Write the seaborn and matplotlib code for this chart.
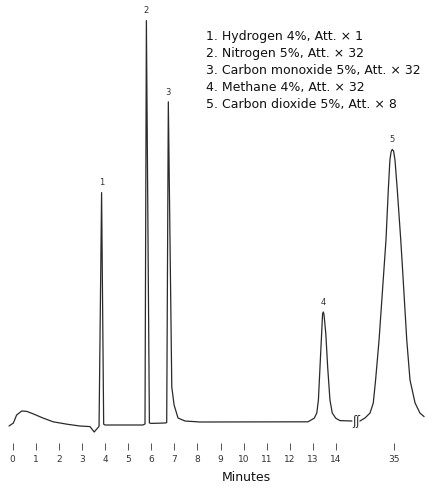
import numpy as np
import pandas as pd
import matplotlib
matplotlib.use("Agg")
import matplotlib.pyplot as plt
import seaborn as sns

# Trace (time in minutes, detector response)
left_time = [-0.16, 0.03, 0.17, 0.39, 0.61, 0.88, 1.31, 1.75, 2.35, 2.91, 3.35, 3.53, 3.64, 3.72,
             3.74, 3.85, 3.94, 4.0, 5.64,
             5.73, 5.79, 5.92, 6.02, 6.6,
             6.67, 6.74, 6.89, 6.99, 7.16, 7.46, 8.11, 12.79,
             13.06, 13.17, 13.24, 13.31, 13.38, 13.42, 13.45, 13.48, 13.56, 13.64, 13.74,
             13.84, 13.99, 14.17, 14.69]
left_signal = [-0.25, 0.5, 2.5, 3.5, 3.4, 2.8, 1.75, 0.8, 0.2, -0.25, -0.4, -1.75, -1.0, -0.5,
               -0.25, 58.1, 0.2, 0.0, 0.0,
               0.25, 101.1, 0.5, 0.4, 0.5,
               0.6, 80.8, 9.5, 5.0, 1.75, 1.0, 0.75, 0.8,
               1.7, 3.0, 6.25, 14.6, 22.9, 27.75, 28.25, 27.75, 22.9, 14.6, 6.25,
               3.0, 1.7, 1.1, 1.0]

right_time = [33.51, 33.73, 33.95, 34.09, 34.19, 34.34, 34.55, 34.64, 34.74, 34.81, 34.86,
              34.91, 34.97, 35.03, 35.13, 35.28, 35.36, 35.54, 35.68, 35.9, 36.11, 36.29]
right_signal = [1.0, 1.75, 3.0, 5.5, 11.25, 21.25, 38.75, 46.25, 58.75, 66.25, 68.25,
                68.9, 68.5, 66.25, 58.75, 46.25, 38.75, 21.25, 11.25, 5.5, 3.0, 2.1]

peak_numbers = ["1", "2", "3", "4", "5"]
peak_times = [3.85, 5.79, 6.74, 13.45, 34.91]
peak_heights = [58.1, 101.1, 80.8, 28.25, 68.9]

legend_lines = [
    "1. Hydrogen 4%, Att. \u00d7 1",
    "2. Nitrogen 5%, Att. \u00d7 32",
    "3. Carbon monoxide 5%, Att. \u00d7 32",
    "4. Methane 4%, Att. \u00d7 32",
    "5. Carbon dioxide 5%, Att. \u00d7 8",
]

left_ticks = list(range(0, 15))
right_ticks = [35]

sns.set_style("white")
plt.rcParams["font.family"] = ["DejaVu Sans"]
narrow = ["Liberation Sans Narrow", "DejaVu Sans"]

W, H = 438, 490
fig = plt.figure(figsize=(W / 100, H / 100), dpi=100)
ax1 = fig.add_axes([5 / W, 47 / H, 350 / W, 443 / H])
ax2 = fig.add_axes([358 / W, 47 / H, 74 / W, 443 / H])

line_color = "#2a2a2a"
left_df = pd.DataFrame({"time": left_time, "signal": left_signal})
right_df = pd.DataFrame({"time": right_time, "signal": right_signal})
sns.lineplot(data=left_df, x="time", y="signal", ax=ax1, sort=False, estimator=None,
             color=line_color, linewidth=0.9)
sns.lineplot(data=right_df, x="time", y="signal", ax=ax2, sort=False, estimator=None,
             color=line_color, linewidth=0.9)

ax1.set_xlim(-0.3335, 14.825)
ax2.set_xlim(33.428, 36.633)
for ax, ticks in [(ax1, left_ticks), (ax2, right_ticks)]:
    ax.set_ylim(-4.5, 106.25)
    ax.set_xticks(ticks)
    ax.set_xticklabels([str(t) for t in ticks], fontsize=6.5, color="#333333", family=narrow)
    ax.set_yticks([])
    ax.set_xlabel("")
    ax.set_ylabel("")
    for sp in ax.spines.values():
        sp.set_visible(False)
    ax.tick_params(axis="x", direction="out", length=5, width=0.7, color="#555555",
                   pad=3.5, bottom=True)
    ax.patch.set_alpha(0)

# Peak numbers above apexes
for num, t, h in zip(peak_numbers, peak_times, peak_heights):
    ax = ax1 if t < 20 else ax2
    ax.annotate(num, (t, h), xytext=(0, 7), textcoords="offset points",
                ha="center", va="center", fontsize=6, color="#333333", family=narrow)

# Break mark on the time axis
fig.text(356 / W, 1 - 421 / H, "\u0283\u0283", ha="center", va="center",
         fontsize=8.5, color=line_color)

for i, txt in enumerate(legend_lines):
    fig.text(206 / W, 1 - (36.7 + 17 * i) / H, txt, ha="left", va="center",
             fontsize=9, color="#111111")

fig.text(246.7 / W, 1 - 477 / H, "Minutes", ha="center", va="center",
         fontsize=9, color="#111111")

fig.savefig("out.png", dpi=100)
